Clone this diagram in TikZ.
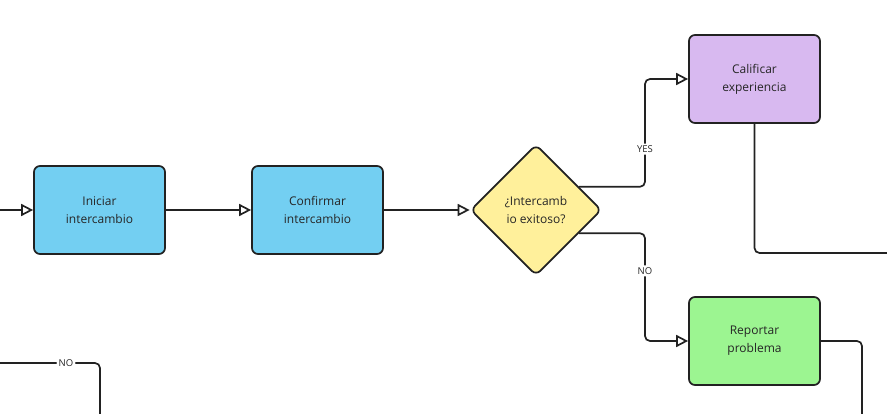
\documentclass[tikz,border=0pt]{standalone}
\usepackage{fontspec}
\setmainfont{Open Sans}
\usetikzlibrary{shapes.geometric,arrows.meta,calc}
\definecolor{boxblue}{RGB}{115,207,242}
\definecolor{boxlila}{RGB}{216,185,240}
\definecolor{boxgreen}{RGB}{156,245,145}
\definecolor{boxyellow}{RGB}{255,240,155}
\definecolor{edgegray}{RGB}{34,34,34}
\tikzset{
 paso/.style={draw=edgegray,line width=1.7pt,rounded corners=6pt,minimum width=131pt,minimum height=88pt,align=center,font=\fontsize{12}{18}\selectfont,text=black!85},
 decision/.style={diamond,draw=edgegray,line width=1.7pt,rounded corners=6pt,fill=boxyellow,minimum width=131pt,minimum height=131pt,inner sep=0pt,align=center,font=\fontsize{12}{18}\selectfont,text=black!85},
 flujo/.style={draw=edgegray,line width=1.7pt,rounded corners=5pt,-{Triangle[fill=white,length=12pt,width=12pt]}},
 linea/.style={draw=edgegray,line width=1.7pt,rounded corners=5pt},
 etiqueta/.style={fill=white,inner sep=2pt,font=\fontsize{9.5}{10}\selectfont,text=black!85}
}
\begin{document}
\begin{tikzpicture}[x=1pt,y=-1pt]
 \useasboundingbox (0,0) rectangle (887,414);
 % cajas
 \node[paso,fill=boxblue] (ini) at (99.5,210) {Iniciar\\intercambio};
 \node[paso,fill=boxblue] (conf) at (317.5,210) {Confirmar\\intercambio};
 \node[decision] (exito) at (536,210) {¿Intercamb\\io exitoso?};
 \node[paso,fill=boxlila] (cal) at (754.5,79) {Calificar\\experiencia};
 \node[paso,fill=boxgreen] (rep) at (754.5,341) {Reportar\\problema};
 % extremos fuera del dibujo
 \coordinate (entra) at (0,210);
 \coordinate (salecal) at (890,253);
 \coordinate (salerep) at (862,418);
 \coordinate (vieneno) at (0,363);
 \coordinate (bajano) at (100,418);
 % conectores
 \draw[flujo] (entra) -- (ini);
 \draw[flujo] (ini) -- (conf);
 \draw[flujo] (conf) -- (exito);
 \draw[flujo] ($(exito.east)!0.35!(exito.north)$) -| (645,79) node[etiqueta,pos=0.675] {YES} -- (cal.west);
 \draw[flujo] ($(exito.east)!0.35!(exito.south)$) -| (645,341) node[etiqueta,pos=0.675] {NO} -- (rep.west);
 \draw[linea] (cal.south) |- (salecal);
 \draw[linea] (rep.east) -| (salerep);
 \draw[linea] (vieneno) -| (bajano) node[etiqueta,pos=0.33] {NO};
\end{tikzpicture}
\end{document}
